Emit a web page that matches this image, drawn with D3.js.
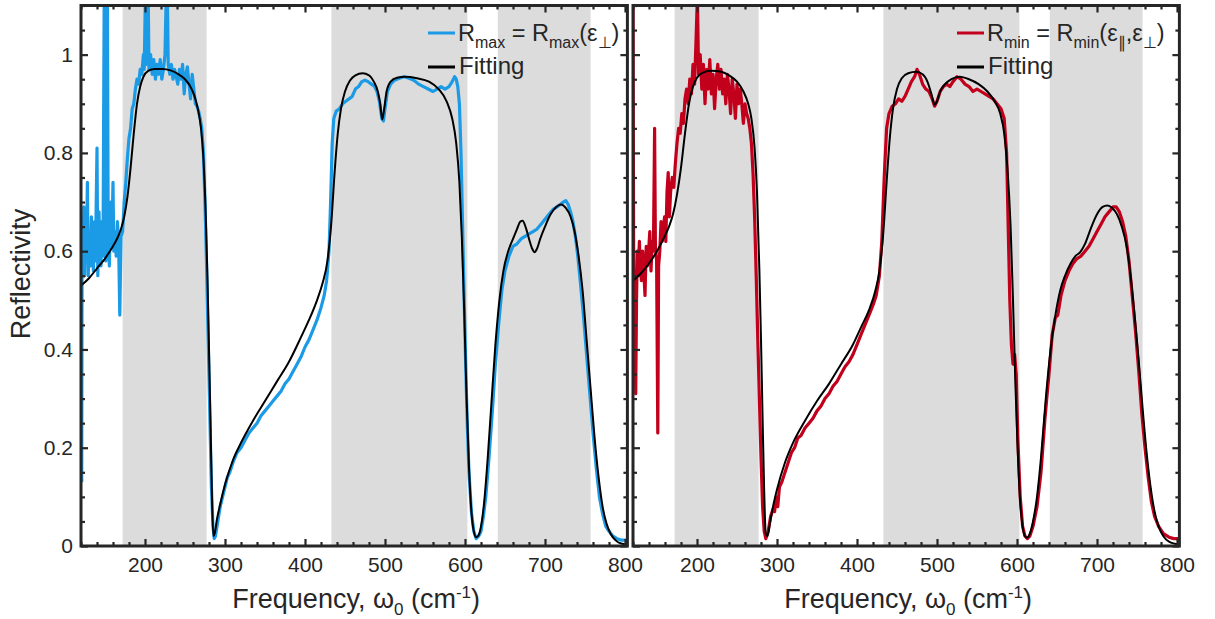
<!DOCTYPE html>
<html><head><meta charset="utf-8">
<script src="https://cdn.jsdelivr.net/npm/d3@7"></script>
<style>
html,body{margin:0;padding:0;background:#fff;}
svg{display:block;font-family:"Liberation Sans",Arial,Helvetica,sans-serif;}
</style></head><body>
<svg id="chart" width="1215" height="619"></svg>
<script>
// Shaded frequency windows (cm-1)
const bands = [[172, 277], [433, 603], [641, 757]];

// Axis ticks and labels
const xTicks = [200, 300, 400, 500, 600, 700, 800];
const xTickLabels = ["200", "300", "400", "500", "600", "700", "800"];
const yTicks = [0, 0.2, 0.4, 0.6, 0.8, 1];
const yTickLabels = ["0", "0.2", "0.4", "0.6", "0.8", "1"];

// Measured R_max (frequency cm-1, reflectivity)
const rMaxMeasured = [
[120.9,0.13],[121.3,0.56],[121.9,0.62],[122.5,0.57],[123.5,0.69],[124.5,0.55],[125.5,0.64],[126.5,0.58],[128,0.74],[129,0.55],
[130.5,0.63],[131.5,0.57],[133,0.67],[134,0.6],[135.5,0.56],[137,0.66],[138,0.58],[140,0.81],[141,0.55],[142.5,0.68],
[143.5,0.6],[145,0.57],[146,0.66],[147.5,0.59],[149,1.12],[150,0.65],[151,0.58],[152,0.72],[153,1.12],[154,0.62],
[155.5,0.57],[157,0.7],[158.5,0.61],[160,0.74],[161,0.6],[162.5,0.64],[164,0.59],[165.5,0.66],[167,0.62],[168.5,0.47],
[170,0.63],[172,0.64],[174,0.7],[176,0.74],[178,0.79],[180,0.83],[182,0.85],[184,0.89],[186,0.9],[188,0.93],
[190,0.95],[192,0.94],[194,0.97],[196,0.96],[198,1.0],[199,0.97],[200.5,1.12],[201.5,0.98],[203,1.02],[204,1.12],
[205,0.97],[207,1.0],[209,0.96],[211,0.99],[213,0.95],[215,0.98],[217,0.96],[219,0.99],[221,0.95],[223,0.97],
[225,1.0],[226.5,1.12],[228,1.12],[229,0.98],[231,0.96],[233,0.98],[235,0.95],[237,0.97],[239,0.955],[241,0.94],
[243,0.97],[245,0.95],[247,0.98],[249,0.92],[251,0.96],[253,0.975],[255,0.94],[257,0.91],[259,0.96],[261,0.93],
[263,0.9],[265,0.895],[267,0.885],[269,0.87],[271,0.85],[273,0.8],[275,0.7],[277,0.57],[279,0.42],[281,0.27],
[283,0.12],[285,0.04],[286.5,0.015],[288,0.02],[291,0.05],[294,0.08],[297,0.1],[300,0.12],[303,0.14],[306,0.15],
[310,0.17],[315,0.19],[320,0.2],[325,0.215],[330,0.23],[335,0.24],[340,0.25],[345,0.265],[350,0.275],[355,0.285],
[360,0.295],[365,0.305],[370,0.315],[375,0.33],[380,0.34],[385,0.355],[390,0.37],[395,0.385],[400,0.405],[405,0.42],
[410,0.44],[415,0.46],[420,0.485],[424,0.51],[427,0.54],[430,0.6],[432,0.7],[434,0.82],[436,0.87],[439,0.885],
[443,0.89],[447,0.9],[451,0.905],[455,0.91],[459,0.915],[463,0.93],[467,0.935],[471,0.945],[475,0.948],[479,0.945],
[483,0.94],[487,0.935],[490,0.925],[493,0.905],[496,0.87],[498,0.865],[500,0.89],[503,0.925],[507,0.94],[512,0.948],
[518,0.952],[524,0.955],[530,0.952],[536,0.948],[542,0.94],[548,0.935],[554,0.93],[560,0.925],[565,0.93],[570,0.935],
[575,0.93],[580,0.935],[584,0.945],[587,0.955],[589,0.95],[591,0.935],[593,0.9],[595,0.8],[597,0.65],[599,0.5],
[601,0.36],[603,0.24],[605,0.15],[608,0.07],[611,0.03],[614,0.015],[617,0.02],[620,0.03],[623,0.06],[626,0.1],
[630,0.18],[634,0.27],[638,0.37],[642,0.45],[646,0.52],[650,0.56],[655,0.59],[660,0.61],[665,0.615],[670,0.625],
[675,0.63],[680,0.635],[685,0.64],[690,0.645],[695,0.655],[700,0.665],[705,0.675],[710,0.685],[715,0.69],[719,0.695],
[723,0.7],[726,0.703],[729,0.695],[732,0.68],[735,0.66],[738,0.63],[741,0.59],[744,0.54],[748,0.47],[752,0.39],
[756,0.31],[760,0.23],[764,0.16],[768,0.1],[772,0.065],[776,0.04],[780,0.03],[785,0.02],[790,0.015],[795,0.012],[803,0.012]
];

// Model fit to R_max
const rMaxFit = [
[120,0.53],[130,0.545],[140,0.565],[150,0.585],[158,0.605],[165,0.625],[170,0.645],[174,0.67],[178,0.71],[182,0.77],
[186,0.84],[190,0.9],[194,0.935],[198,0.955],[204,0.967],[212,0.971],[222,0.971],[232,0.968],[242,0.96],[250,0.95],
[256,0.937],[262,0.915],[266,0.89],[270,0.85],[273,0.79],[276,0.67],[278,0.55],[280,0.4],[282,0.24],[284,0.08],
[285.5,0.02],[287,0.025],[290,0.055],[294,0.085],[300,0.125],[310,0.175],[320,0.21],[335,0.255],[350,0.295],[365,0.335],
[380,0.375],[395,0.425],[405,0.46],[415,0.5],[422,0.535],[428,0.58],[433,0.66],[437,0.76],[441,0.84],[445,0.89],
[450,0.925],[456,0.947],[463,0.958],[472,0.962],[480,0.958],[486,0.945],[491,0.925],[494,0.9],[496.5,0.868],[499,0.89],
[502,0.925],[507,0.945],[515,0.953],[525,0.955],[540,0.952],[555,0.945],[567,0.93],[577,0.905],[584,0.87],[589,0.82],
[593,0.74],[596,0.63],[599,0.48],[602,0.3],[605,0.16],[608,0.07],[611,0.03],[614,0.018],[617,0.022],[620,0.04],
[624,0.09],[628,0.17],[633,0.29],[638,0.41],[643,0.5],[648,0.56],[654,0.6],[660,0.625],[665,0.645],[669,0.66],
[672,0.662],[676,0.648],[680,0.625],[684,0.605],[687,0.598],[690,0.605],[694,0.625],[700,0.65],[707,0.675],[714,0.69],
[720,0.695],[726,0.688],[732,0.67],[737,0.64],[742,0.59],[747,0.52],[752,0.42],[757,0.32],[762,0.22],[767,0.14],
[772,0.08],[777,0.045],[782,0.025],[788,0.012],[795,0.005],[803,0.003]
];

// Measured R_min
const rMinMeasured = [
[120,1.12],[120.8,0.6],[121.6,0.45],[122.4,0.55],[123.4,0.31],[124.4,0.5],[125.4,0.6],[126.4,0.55],[128,0.62],[129,0.57],
[130.5,0.54],[132,0.6],[133.5,0.56],[135,0.51],[136.5,0.61],[138,0.57],[139.5,0.6],[141,0.64],[142.5,0.56],[144,0.62],
[145.5,0.6],[147,0.85],[148,0.61],[149.5,0.58],[151,0.23],[152,0.57],[153.5,0.6],[155,0.66],[156.5,0.62],[158,0.65],
[159.5,0.67],[161,0.62],[162.5,0.72],[164,0.76],[165.5,0.67],[167,0.72],[169,0.75],[171,0.73],[173,0.78],[175,0.82],
[177,0.85],[179,0.84],[181,0.88],[183,0.86],[185,0.91],[187,0.93],[189,0.9],[191,0.95],[193,0.92],[195,0.98],
[197,0.94],[199,1.04],[200.5,1.12],[202,0.96],[204,1.0],[206,0.93],[208,0.98],[210,0.9],[212,0.97],[214,0.93],
[216,0.99],[218,0.92],[220,0.96],[222,0.89],[224,0.95],[226,0.98],[228,0.93],[230,0.97],[232,0.92],[234,0.95],
[236,0.9],[238,0.96],[240,0.93],[242,0.88],[244,0.95],[246,0.92],[248,0.87],[250,0.94],[252,0.9],[254,0.93],
[256,0.9],[258,0.86],[260,0.9],[262,0.88],[264,0.87],[266,0.85],[268,0.82],[270,0.76],[272,0.67],[274,0.55],
[276,0.42],[278,0.3],[280,0.18],[282,0.08],[284,0.03],[286,0.015],[289,0.03],[292,0.06],[295,0.075],[297,0.07],
[299,0.1],[301,0.08],[303,0.12],[306,0.13],[310,0.15],[314,0.17],[318,0.19],[322,0.2],[326,0.22],[330,0.225],
[335,0.24],[340,0.25],[345,0.26],[350,0.275],[355,0.285],[360,0.3],[365,0.31],[370,0.325],[375,0.335],[380,0.35],
[385,0.365],[390,0.375],[395,0.39],[400,0.41],[405,0.43],[410,0.45],[415,0.47],[420,0.49],[424,0.51],[428,0.55],
[431,0.62],[434,0.75],[437,0.85],[440,0.88],[444,0.895],[448,0.9],[452,0.91],[456,0.905],[460,0.915],[464,0.93],
[468,0.945],[472,0.955],[475,0.97],[478,0.96],[482,0.94],[486,0.93],[490,0.925],[494,0.91],[497,0.895],[500,0.905],
[504,0.925],[508,0.935],[512,0.94],[516,0.935],[520,0.945],[525,0.955],[530,0.95],[535,0.94],[540,0.935],[545,0.925],
[550,0.93],[555,0.925],[560,0.92],[565,0.915],[570,0.91],[575,0.9],[580,0.89],[584,0.87],[587,0.8],[589,0.65],
[591,0.5],[593,0.41],[595,0.37],[597,0.39],[599,0.35],[601,0.22],[604,0.1],[607,0.04],[610,0.02],[613,0.015],
[616,0.02],[620,0.04],[625,0.08],[630,0.15],[635,0.26],[640,0.35],[644,0.43],[648,0.465],[651,0.47],[655,0.51],
[660,0.54],[665,0.56],[670,0.575],[675,0.585],[680,0.59],[685,0.6],[690,0.61],[695,0.625],[700,0.64],[705,0.655],
[710,0.67],[715,0.68],[720,0.69],[724,0.69],[728,0.68],[732,0.66],[736,0.63],[740,0.58],[744,0.51],[748,0.44],
[752,0.36],[756,0.27],[760,0.2],[764,0.14],[768,0.09],[772,0.06],[777,0.04],[783,0.025],[790,0.018],[796,0.015],[803,0.015]
];

// Model fit to R_min
const rMinFit = [
[120,0.54],[130,0.555],[140,0.575],[150,0.6],[158,0.625],[165,0.65],[170,0.675],[175,0.715],[180,0.77],[185,0.84],
[190,0.9],[195,0.935],[200,0.953],[208,0.964],[218,0.967],[230,0.965],[240,0.958],[250,0.945],[258,0.925],[264,0.9],
[268,0.87],[272,0.81],[275,0.72],[278,0.56],[280,0.42],[282,0.26],[284,0.11],[286,0.025],[288,0.02],[291,0.045],
[295,0.08],[300,0.115],[310,0.17],[320,0.21],[335,0.255],[350,0.295],[365,0.33],[380,0.37],[395,0.41],[405,0.445],
[415,0.48],[423,0.52],[428,0.56],[433,0.64],[437,0.74],[441,0.83],[445,0.89],[450,0.93],[456,0.952],[464,0.962],
[474,0.965],[482,0.96],[488,0.945],[493,0.92],[497,0.898],[500,0.905],[504,0.925],[510,0.94],[518,0.95],[528,0.955],
[540,0.95],[552,0.94],[563,0.925],[572,0.905],[579,0.88],[584,0.84],[588,0.77],[592,0.65],[595,0.5],[598,0.33],
[601,0.19],[604,0.09],[607,0.04],[610,0.02],[613,0.017],[616,0.025],[620,0.05],[625,0.1],[630,0.18],[636,0.3],
[642,0.4],[648,0.47],[654,0.52],[660,0.55],[667,0.575],[673,0.59],[679,0.598],[685,0.615],[692,0.645],[700,0.675],
[707,0.69],[713,0.693],[719,0.688],[725,0.675],[731,0.65],[737,0.61],[742,0.55],[747,0.47],[752,0.38],[757,0.28],
[762,0.19],[767,0.12],[772,0.07],[777,0.04],[783,0.02],[790,0.009],[803,0.003]
];

const svg = d3.select("#chart");
const ink = "#262626";
const yTop = 5.5, yBottom = 546;
const y = d3.scaleLinear().domain([0, 1.1]).range([yBottom, yTop]);

const panels = [
  {id: "pmax", left: 81, right: 627.4, data: rMaxMeasured, fit: rMaxFit, color: "#1b9be6",
   legendX: 428, yLabels: true,
   legend: [["R", ""], ["max", "sub"], [" = R", ""], ["max", "sub"], ["(ε", ""], ["⊥", "sub"], [")", ""]]},
  {id: "pmin", left: 633, right: 1179.4, data: rMinMeasured, fit: rMinFit, color: "#c3001c",
   legendX: 957, yLabels: false,
   legend: [["R", ""], ["min", "sub"], [" = R", ""], ["min", "sub"], ["(ε", ""], ["∥", "sub"], [",ε", ""], ["⊥", "sub"], [")", ""]]}
];

const xMinor = d3.range(120, 801, 20).filter(v => v % 100 !== 0);
const yMinor = d3.range(0, 1.101, 0.05).filter(v => Math.abs(v * 5 - Math.round(v * 5)) > 1e-6);

panels.forEach(p => {
  const x = d3.scaleLinear().domain([120, 803]).range([p.left, p.right]);
  const g = svg.append("g");

  g.append("clipPath").attr("id", "clip-" + p.id)
    .append("rect").attr("x", p.left).attr("y", yTop).attr("width", p.right - p.left).attr("height", yBottom - yTop);

  // shaded windows
  g.selectAll("rect.band").data(bands).join("rect").attr("class", "band")
    .attr("x", d => x(d[0])).attr("width", d => x(d[1]) - x(d[0]))
    .attr("y", yTop).attr("height", yBottom - yTop).attr("fill", "#dcdcdc");

  const plot = g.append("g").attr("clip-path", `url(#clip-${p.id})`);
  const lineRaw = d3.line().x(d => x(d[0])).y(d => y(d[1]));
  const lineFit = d3.line().x(d => x(d[0])).y(d => y(d[1])).curve(d3.curveMonotoneX);

  plot.append("path").datum(p.data).attr("d", lineRaw)
    .attr("fill", "none").attr("stroke", p.color).attr("stroke-width", 3.2).attr("stroke-linejoin", "round");
  plot.append("path").datum(p.fit).attr("d", lineFit)
    .attr("fill", "none").attr("stroke", "#000").attr("stroke-width", 2);

  // axes with inward ticks on all four sides
  const styleAxis = sel => {
    sel.select(".domain").remove();
    sel.selectAll("line").attr("stroke", ink).attr("stroke-width", 2.2);
    sel.selectAll("text").attr("fill", ink).style("font-size", "21px").style("font-family", '"Liberation Sans", Arial, sans-serif');
  };
  g.append("g").attr("transform", `translate(0,${yBottom})`)
    .call(d3.axisBottom(x).tickValues(xTicks).tickFormat((d, i) => xTickLabels[i]).tickSizeInner(-7).tickSizeOuter(0).tickPadding(11))
    .call(styleAxis);
  g.append("g").attr("transform", `translate(0,${yBottom})`)
    .call(d3.axisBottom(x).tickValues(xMinor).tickFormat("").tickSizeInner(-4).tickSizeOuter(0)).call(styleAxis);
  g.append("g").attr("transform", `translate(0,${yTop})`)
    .call(d3.axisTop(x).tickValues(xTicks).tickFormat("").tickSizeInner(-7).tickSizeOuter(0)).call(styleAxis);
  g.append("g").attr("transform", `translate(0,${yTop})`)
    .call(d3.axisTop(x).tickValues(xMinor).tickFormat("").tickSizeInner(-4).tickSizeOuter(0)).call(styleAxis);

  g.append("g").attr("transform", `translate(${p.left},0)`)
    .call(d3.axisLeft(y).tickValues(yTicks).tickFormat((d, i) => p.yLabels ? yTickLabels[i] : "").tickSizeInner(-7).tickSizeOuter(0).tickPadding(8))
    .call(styleAxis);
  g.append("g").attr("transform", `translate(${p.left},0)`)
    .call(d3.axisLeft(y).tickValues(yMinor).tickFormat("").tickSizeInner(-4).tickSizeOuter(0)).call(styleAxis);
  g.append("g").attr("transform", `translate(${p.right},0)`)
    .call(d3.axisRight(y).tickValues(yTicks).tickFormat("").tickSizeInner(-7).tickSizeOuter(0)).call(styleAxis);
  g.append("g").attr("transform", `translate(${p.right},0)`)
    .call(d3.axisRight(y).tickValues(yMinor).tickFormat("").tickSizeInner(-4).tickSizeOuter(0)).call(styleAxis);

  // frame
  g.append("rect").attr("x", p.left).attr("y", yTop).attr("width", p.right - p.left).attr("height", yBottom - yTop)
    .attr("fill", "none").attr("stroke", ink).attr("stroke-width", 3);

  // x-axis title
  const xt = g.append("text").attr("x", (p.left + p.right) / 2 + 2).attr("y", 608)
    .attr("text-anchor", "middle").attr("fill", ink).style("font-size", "27px");
  xt.append("tspan").text("Frequency, ω");
  xt.append("tspan").text("0").style("font-size", "17px").attr("dy", 7);
  xt.append("tspan").text(" (cm").attr("dy", -7);
  xt.append("tspan").text("-1").style("font-size", "17px").attr("dy", -10);
  xt.append("tspan").text(")").attr("dy", 10);

  // legend
  const lg = g.append("g");
  lg.append("line").attr("x1", p.legendX).attr("x2", p.legendX + 27).attr("y1", 33).attr("y2", 33)
    .attr("stroke", p.color).attr("stroke-width", 3);
  lg.append("line").attr("x1", p.legendX).attr("x2", p.legendX + 27).attr("y1", 67).attr("y2", 67)
    .attr("stroke", "#000").attr("stroke-width", 3);
  const t1 = lg.append("text").attr("x", p.legendX + 30).attr("y", 41).attr("fill", ink).style("font-size", "23.5px");
  let shift = 0;
  p.legend.forEach(([s, kind]) => {
    const want = kind === "sub" ? 7 : 0;
    t1.append("tspan").text(s).attr("dy", want - shift).style("font-size", kind === "sub" ? "16px" : "23.5px");
    shift = want;
  });
  lg.append("text").attr("x", p.legendX + 31).attr("y", 74).attr("fill", ink).style("font-size", "24px").text("Fitting");
});

// y-axis title
svg.append("text").attr("transform", "translate(30,274) rotate(-90)").attr("text-anchor", "middle")
  .attr("fill", ink).style("font-size", "27px").text("Reflectivity");
</script>
</body></html>
